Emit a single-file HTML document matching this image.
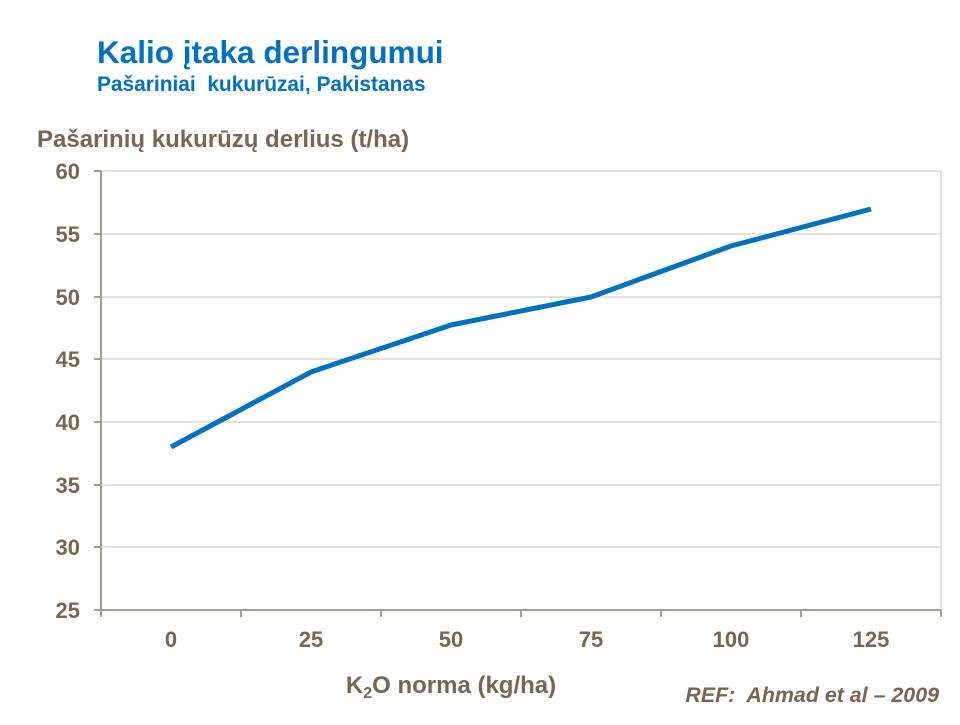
<!DOCTYPE html>
<html><head><meta charset="utf-8"><style>
body{margin:0;width:960px;height:720px;background:#fff;overflow:hidden;font-family:"Liberation Sans",sans-serif;}
</style></head><body>
<svg width="960" height="720" xmlns="http://www.w3.org/2000/svg" font-family="Liberation Sans, sans-serif" font-weight="bold">
<text x="97" y="63" font-size="31.5" fill="#0070C0">Kalio įtaka derlingumui</text>
<text x="97" y="91" font-size="20.9" fill="#0070C0" style="white-space:pre">Pašariniai  kukurūzai, Pakistanas</text>
<text x="37" y="147" font-size="24" fill="#7A6650">Pašarinių kukurūzų derlius (t/ha)</text>
<g stroke="#C8C0B6" stroke-width="1">
<line x1="101" y1="171" x2="941" y2="171"/>
<line x1="101" y1="234" x2="941" y2="234"/>
<line x1="101" y1="297" x2="941" y2="297"/>
<line x1="101" y1="359" x2="941" y2="359"/>
<line x1="101" y1="422" x2="941" y2="422"/>
<line x1="101" y1="485" x2="941" y2="485"/>
<line x1="101" y1="547" x2="941" y2="547"/>
<line x1="941" y1="171" x2="941" y2="610"/>
</g>
<g stroke="#A89C8E" stroke-width="2">
<line x1="101" y1="171" x2="101" y2="611"/>
<line x1="100" y1="610" x2="941" y2="610"/>
<line x1="94" y1="171" x2="101" y2="171"/>
<line x1="94" y1="234" x2="101" y2="234"/>
<line x1="94" y1="297" x2="101" y2="297"/>
<line x1="94" y1="359" x2="101" y2="359"/>
<line x1="94" y1="422" x2="101" y2="422"/>
<line x1="94" y1="485" x2="101" y2="485"/>
<line x1="94" y1="547" x2="101" y2="547"/>
<line x1="94" y1="610" x2="101" y2="610"/>
<line x1="101" y1="610" x2="101" y2="617"/>
<line x1="241" y1="610" x2="241" y2="617"/>
<line x1="381" y1="610" x2="381" y2="617"/>
<line x1="521" y1="610" x2="521" y2="617"/>
<line x1="661" y1="610" x2="661" y2="617"/>
<line x1="801" y1="610" x2="801" y2="617"/>
<line x1="941" y1="610" x2="941" y2="617"/>
</g>
<g font-size="22" fill="#7A6650" text-anchor="end">
<text x="80" y="179">60</text><text x="80" y="242">55</text><text x="80" y="305">50</text><text x="80" y="367">45</text>
<text x="80" y="430">40</text><text x="80" y="493">35</text><text x="80" y="555">30</text><text x="80" y="618">25</text>
</g>
<g font-size="22" fill="#7A6650" text-anchor="middle">
<text x="171" y="647">0</text><text x="311" y="647">25</text><text x="451" y="647">50</text>
<text x="591" y="647">75</text><text x="731" y="647">100</text><text x="871" y="647">125</text>
<text x="451" y="693" font-size="24">K<tspan font-size="16" dy="5">2</tspan><tspan dy="-5">O norma (kg/ha)</tspan></text>
</g>
<text x="939" y="702" font-size="21.4" font-style="italic" fill="#7A6650" text-anchor="end" style="white-space:pre">REF:  Ahmad et al – 2009</text>
<polyline points="171,447 311,372 451,325 591,297 731,246 871,209" fill="none" stroke="#0070C0" stroke-width="5" stroke-linejoin="round"/>
</svg>
</body></html>
